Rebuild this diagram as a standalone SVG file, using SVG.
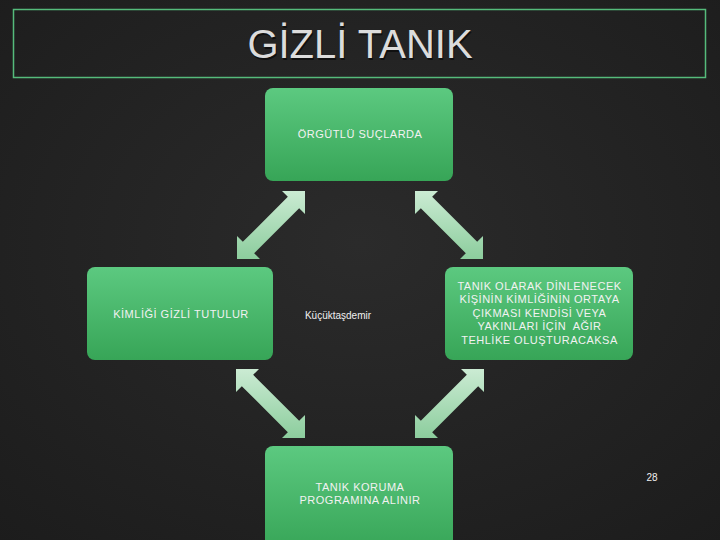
<svg xmlns="http://www.w3.org/2000/svg" width="720" height="540" viewBox="0 0 720 540">
  <defs>
    <radialGradient id="bg" cx="50%" cy="45%" r="75%">
      <stop offset="0" stop-color="#2b2b2b"/>
      <stop offset="1" stop-color="#1c1c1c"/>
    </radialGradient>
    <linearGradient id="nodeFill" x1="0" y1="0" x2="0" y2="1">
      <stop offset="0" stop-color="#5cc980"/>
      <stop offset="1" stop-color="#37a557"/>
    </linearGradient>
    <linearGradient id="arrowFill" x1="0" y1="0" x2="0" y2="1">
      <stop offset="0" stop-color="#cbebd3"/>
      <stop offset="1" stop-color="#8ccd9d"/>
    </linearGradient>
    <style>
      .node rect { fill: url(#nodeFill); }
      .ntext { font-family: "Liberation Sans", Arial, sans-serif; font-size: 11px; fill: #f2f2f2; text-anchor: middle; letter-spacing: 0.5px; white-space: pre; }
      .arrow { fill: url(#arrowFill); }
    </style>
  </defs>
  <rect x="0" y="0" width="720" height="540" fill="url(#bg)"/>

  <g id="title">
    <rect x="13.5" y="9.5" width="692" height="68" fill="none" stroke="#55bb7b" stroke-width="1.5"/>
    <text x="361" y="59.5" font-family="Liberation Sans, Arial, sans-serif" font-size="40" fill="#101010" text-anchor="middle">GİZLİ TANIK</text>
    <text x="360" y="58.3" font-family="Liberation Sans, Arial, sans-serif" font-size="40" fill="#dcdcdc" text-anchor="middle">GİZLİ TANIK</text>
  </g>

  <g id="connectors">
    <polygon class="arrow" points="237,259 260,259 254.16,253.16 299.16,208.16 305,214 305,191 282,191 287.84,196.84 242.84,241.84 237,236"/>
    <polygon class="arrow" points="415,191 438,191 432.16,196.84 477.16,241.84 483,236 483,259 460,259 465.84,253.16 420.84,208.16 415,214"/>
    <polygon class="arrow" points="236,369 259,369 253.16,374.84 299.16,420.84 305,415 305,438 282,438 287.84,432.16 241.84,386.16 236,392"/>
    <polygon class="arrow" points="484,369 461,369 466.84,374.84 420.84,420.84 415,415 415,438 438,438 432.16,432.16 478.16,386.16 484,392"/>
  </g>

  <g id="node-top" class="node">
    <rect x="265" y="88" width="188" height="93" rx="8"/>
    <text class="ntext" x="360" y="138">ÖRGÜTLÜ SUÇLARDA</text>
  </g>

  <g id="node-left" class="node">
    <rect x="87" y="267" width="186" height="93" rx="8"/>
    <text class="ntext" x="181" y="318">KİMLİĞİ GİZLİ TUTULUR</text>
  </g>

  <g id="node-right" class="node">
    <rect x="445" y="267" width="188" height="93" rx="8"/>
    <text class="ntext" x="539.5" y="289.5">TANIK OLARAK DİNLENECEK</text>
    <text class="ntext" x="539.5" y="303">KİŞİNİN KİMLİĞİNİN ORTAYA</text>
    <text class="ntext" x="539.5" y="316.5">ÇIKMASI KENDİSİ VEYA</text>
    <text class="ntext" x="539.5" y="330" xml:space="preserve">YAKINLARI İÇİN  AĞIR</text>
    <text class="ntext" x="539.5" y="343.5">TEHLİKE OLUŞTURACAKSA</text>
  </g>

  <g id="node-bottom" class="node">
    <rect x="265" y="446" width="188" height="104" rx="8"/>
    <text class="ntext" x="360" y="490.5">TANIK KORUMA</text>
    <text class="ntext" x="360" y="504">PROGRAMINA ALINIR</text>
  </g>

  <g id="center-label">
    <text x="338" y="318.5" font-family="Liberation Sans, Arial, sans-serif" font-size="10" fill="#f0f0f0" text-anchor="middle">Küçüktaşdemir</text>
  </g>

  <g id="page-number">
    <text x="652" y="481" font-family="Liberation Sans, Arial, sans-serif" font-size="10" fill="#f0f0f0" text-anchor="middle">28</text>
  </g>
</svg>
